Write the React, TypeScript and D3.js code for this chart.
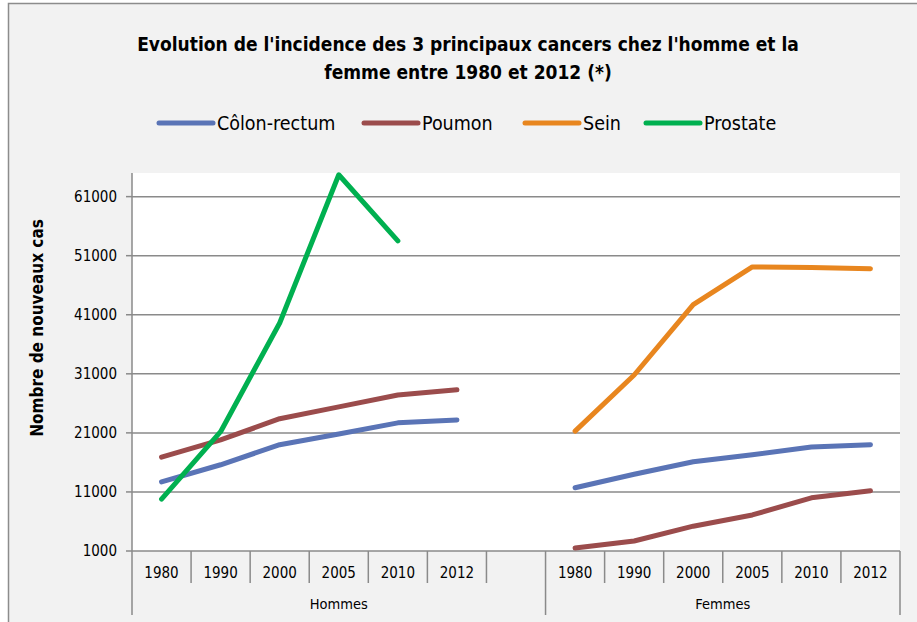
import { useEffect, useRef } from 'react';
import * as d3 from 'd3';

const years = ['1980', '1990', '2000', '2005', '2010', '2012'];
const groups = ['Hommes', 'Femmes'];
const yTicks = [1000, 11000, 21000, 31000, 41000, 51000, 61000];

// Hommes
const colonH = [12700, 15600, 19000, 20800, 22700, 23200];
const poumonH = [16900, 19800, 23400, 25400, 27400, 28300];
const prostateH = [9800, 21200, 39600, 64700, 53500, null];
// Femmes
const colonF = [11700, 14000, 16100, 17300, 18600, 19000];
const poumonF = [1500, 2700, 5200, 7100, 10000, 11200];
const seinF = [21300, 30800, 42700, 49100, 49000, 48800];

const legendNames = ['Côlon-rectum', 'Poumon', 'Sein', 'Prostate'];
const colors = ['#5a74b6', '#9b4c4c', '#e8861f', '#00b050'];

const FONT = "'DejaVu Sans Condensed', 'Liberation Sans Narrow', sans-serif";

export default function App() {
  const svgRef = useRef<SVGSVGElement>(null);

  useEffect(() => {
    const width = 917;
    const height = 622;
    const svg = d3.select(svgRef.current);
    svg.selectAll('*').remove();
    svg.attr('width', width).attr('height', height);

    const left = 132, right = 900, top = 173, bottom = 551;

    // chart background and border
    svg.append('rect').attr('x', 0).attr('y', 0).attr('width', width).attr('height', height).attr('fill', '#ffffff');
    svg.append('rect')
      .attr('x', 8.5).attr('y', 3.5).attr('width', width + 10).attr('height', height + 10)
      .attr('fill', '#f2f2f2').attr('stroke', '#8c8c8c').attr('stroke-width', 1.5);

    // plot area
    svg.append('rect')
      .attr('x', left).attr('y', top).attr('width', right - left).attr('height', bottom - top)
      .attr('fill', '#ffffff');

    const slots = [...years.map(d => 'H' + d), 'gap', ...years.map(d => 'F' + d)];
    const x = d3.scaleBand().domain(slots).range([left, right]).padding(0);
    const y = d3.scaleLinear().domain([1000, 65000]).range([bottom, top]);
    const cx = (k: string) => (x(k) as number) + x.bandwidth() / 2;

    // gridlines
    svg.append('g').selectAll('line').data(yTicks).enter().append('line')
      .attr('x1', left).attr('x2', right)
      .attr('y1', d => y(d)).attr('y2', d => y(d))
      .attr('stroke', '#8a8a8a').attr('stroke-width', 1.5);

    // y axis
    svg.append('line').attr('x1', left).attr('x2', left).attr('y1', top).attr('y2', bottom)
      .attr('stroke', '#8a8a8a').attr('stroke-width', 1.5);
    svg.append('g').selectAll('line').data(yTicks).enter().append('line')
      .attr('x1', left - 6).attr('x2', left).attr('y1', d => y(d)).attr('y2', d => y(d))
      .attr('stroke', '#8a8a8a').attr('stroke-width', 1.5);
    svg.append('g').selectAll('text').data(yTicks).enter().append('text')
      .attr('x', left - 15).attr('y', d => y(d)).attr('dy', '0.35em')
      .attr('text-anchor', 'end').attr('font-family', FONT).attr('font-size', 15)
      .attr('fill', '#000').text(d => d);

    svg.append('text')
      .attr('transform', `translate(43,328) rotate(-90)`)
      .attr('text-anchor', 'middle').attr('font-family', FONT).attr('font-weight', 'bold')
      .attr('font-size', 17).text('Nombre de nouveaux cas');

    // category axis
    const sepX = [...slots.map(k => x(k) as number), right];
    svg.append('g').selectAll('line').data(sepX).enter().append('line')
      .attr('x1', d => d).attr('x2', d => d)
      .attr('y1', bottom)
      .attr('y2', (d, i) => (i === 0 || i === 7 || i === 13 ? 615 : 583))
      .attr('stroke', '#8a8a8a').attr('stroke-width', 1.5);
    svg.append('g').selectAll('text').data(slots.filter(k => k !== 'gap')).enter().append('text')
      .attr('x', d => cx(d)).attr('y', 573).attr('dy', '0.35em')
      .attr('text-anchor', 'middle').attr('font-family', FONT).attr('font-size', 15)
      .text(d => d.slice(1));
    svg.append('g').selectAll('text').data(groups).enter().append('text')
      .attr('x', (d, i) => (i === 0 ? (left + (x('gap') as number) + x.bandwidth()) / 2 : ((x('gap') as number) + x.bandwidth() + right) / 2))
      .attr('y', 604).attr('dy', '0.35em')
      .attr('text-anchor', 'middle').attr('font-family', FONT).attr('font-size', 14.5)
      .text(d => d);

    // series
    const series = [
      { prefix: 'H', values: colonH, color: colors[0] },
      { prefix: 'H', values: poumonH, color: colors[1] },
      { prefix: 'H', values: prostateH, color: colors[3] },
      { prefix: 'F', values: colonF, color: colors[0] },
      { prefix: 'F', values: poumonF, color: colors[1] },
      { prefix: 'F', values: seinF, color: colors[2] },
    ];
    const line = d3.line<[string, number | null]>()
      .defined(d => d[1] != null)
      .x(d => cx(d[0]))
      .y(d => y(d[1] as number));

    series.forEach(s => {
      const pts: [string, number | null][] = years.map((yr, i) => [s.prefix + yr, s.values[i]]);
      svg.append('path')
        .attr('d', line(pts))
        .attr('fill', 'none').attr('stroke', s.color).attr('stroke-width', 5)
        .attr('stroke-linecap', 'round').attr('stroke-linejoin', 'round');
    });

    // title
    const title = svg.append('text').attr('text-anchor', 'middle')
      .attr('font-family', FONT).attr('font-weight', 'bold').attr('font-size', 19);
    title.append('tspan').attr('x', 468).attr('y', 51).text("Evolution de l'incidence des 3 principaux cancers chez l'homme et la");
    title.append('tspan').attr('x', 468).attr('y', 79).text('femme entre 1980 et 2012 (*)');

    // legend
    const legendX = [159, 364, 525, 646];
    const lg = svg.append('g').selectAll('g').data(legendNames).enter().append('g')
      .attr('transform', (d, i) => `translate(${legendX[i]},123)`);
    lg.append('line').attr('x1', 0).attr('x2', 54).attr('y1', 0).attr('y2', 0)
      .attr('stroke', (d, i) => colors[i]).attr('stroke-width', 5).attr('stroke-linecap', 'round');
    lg.append('text').attr('x', 58).attr('dy', '0.35em')
      .attr('font-family', FONT).attr('font-size', 19.5).text(d => d);
  }, []);

  return (
    <svg ref={svgRef} style={{ position: 'absolute', left: 0, top: 0 }}></svg>
  );
}
